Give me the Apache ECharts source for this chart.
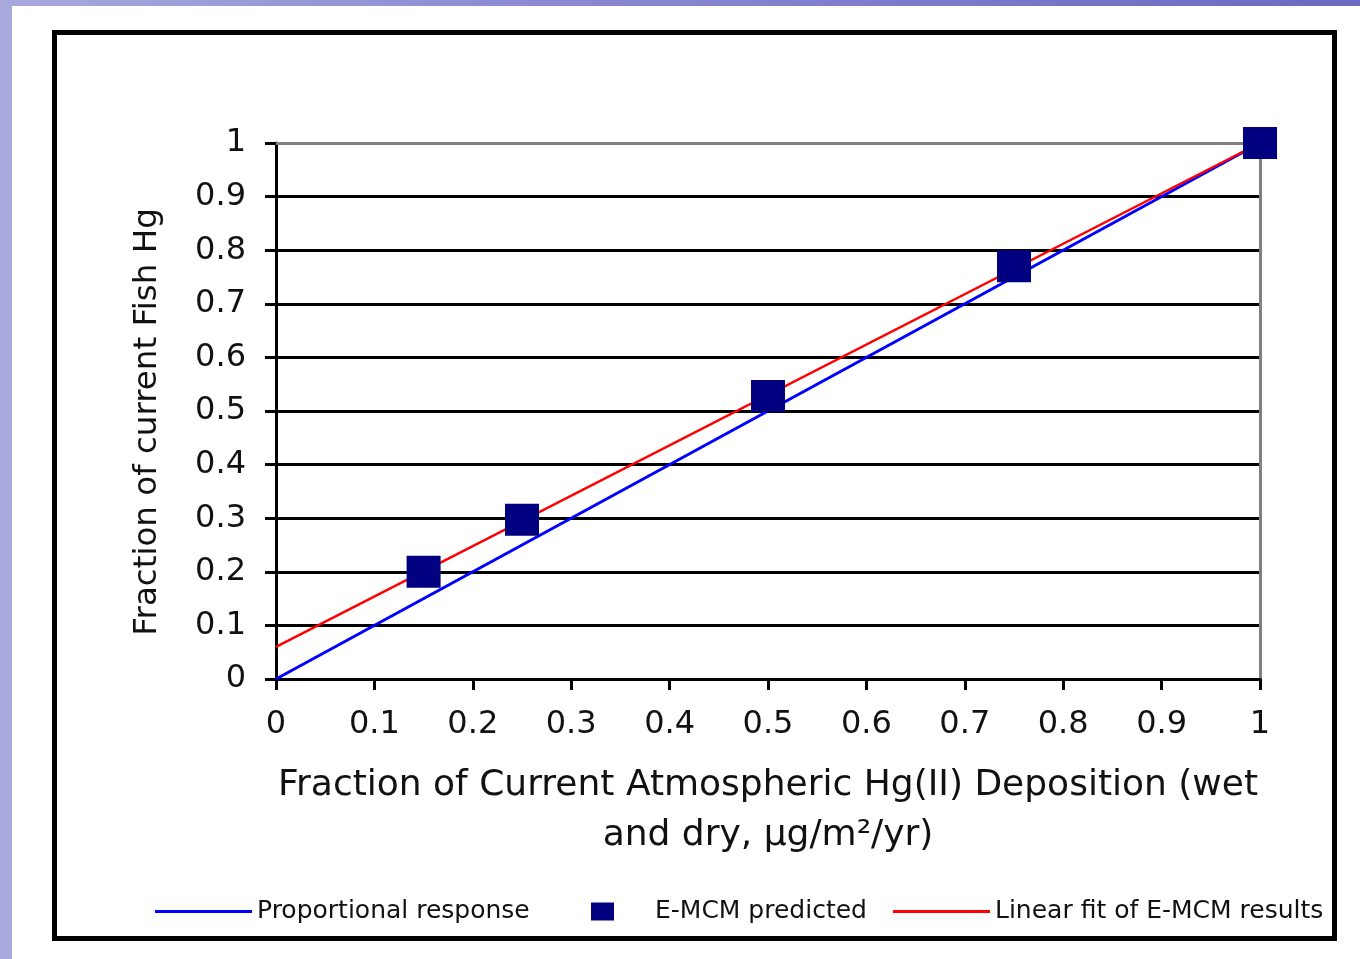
<!DOCTYPE html>
<html>
<head>
<meta charset="utf-8">
<script src="https://cdn.jsdelivr.net/npm/echarts@6/dist/echarts.min.js"></script>
<style>
  html, body { margin: 0; padding: 0; width: 1360px; height: 959px; overflow: hidden; }
  body { background: linear-gradient(90deg, #a9a9de 0%, #8a8ad2 40%, #6a6ac4 100%); }
  #panel { position: absolute; left: 12px; top: 6px; width: 1348px; height: 953px; background: #ffffff; }
  #chart { position: absolute; left: 0; top: 0; width: 1360px; height: 959px; }
</style>
</head>
<body>
<div id="panel"></div>
<div id="chart"></div>
<script>
// ---- data ----
var xTicks = [0, 0.1, 0.2, 0.3, 0.4, 0.5, 0.6, 0.7, 0.8, 0.9, 1];
var yTicks = [0, 0.1, 0.2, 0.3, 0.4, 0.5, 0.6, 0.7, 0.8, 0.9, 1];
var propX = [0, 1];
var propY = [0, 1];
var emcmX = [0.15, 0.25, 0.5, 0.75, 1.0];
var emcmY = [0.20, 0.297, 0.528, 0.77, 1.0];
var fitX = [0, 1];
var fitY = [0.06, 1.0];
var seriesNames = ['Proportional response', 'E-MCM predicted', 'Linear fit of E-MCM results'];
var xTitle = 'Fraction of Current Atmospheric Hg(II) Deposition (wet\nand dry, \u00b5g/m\u00b2/yr)';
var yTitle = 'Fraction of current Fish Hg';

function pairs(xs, ys) { return xs.map(function (x, i) { return [x, ys[i]]; }); }

var FONT = 'DejaVu Sans';
var TXT = '#111111';

var chart = echarts.init(document.getElementById('chart'), null, { renderer: 'canvas' });
var option = {
  backgroundColor: 'transparent',
  animation: false,
  grid: { left: 276, right: 100, top: 143, bottom: 280, containLabel: false },
  legend: [
    { data: [seriesNames[0]], left: 155, top: 899, padding: 0, icon: 'rect', itemWidth: 97, itemHeight: 3,
      itemGap: 0, textStyle: { fontFamily: FONT, fontSize: 25, color: TXT } },
    { data: [seriesNames[1]], left: 591, top: 899, padding: 0, icon: 'rect', itemWidth: 23, itemHeight: 18,
      itemGap: 0, textStyle: { fontFamily: FONT, fontSize: 25, color: TXT, padding: [0, 0, 0, 36] } },
    { data: [seriesNames[2]], left: 893, top: 899, padding: 0, icon: 'rect', itemWidth: 97, itemHeight: 3,
      itemGap: 0, textStyle: { fontFamily: FONT, fontSize: 25, color: TXT } }
  ],
  xAxis: [
    {
      type: 'value', min: 0, max: 1, interval: 0.1, position: 'bottom',
      name: xTitle, nameLocation: 'middle', nameGap: 82,
      nameTextStyle: { fontFamily: FONT, fontSize: 36, color: TXT, lineHeight: 50, align: 'center' },
      axisLine: { show: true, onZero: false, lineStyle: { color: '#000', width: 3 } },
      axisTick: { show: true, length: 11, lineStyle: { color: '#000', width: 3 } },
      axisLabel: { margin: 30, fontFamily: FONT, fontSize: 32, color: TXT,
        formatter: function (v) { return String(+v.toFixed(1)); } },
      splitLine: { show: false }
    },
    {
      type: 'value', min: 0, max: 1, interval: 0.1, position: 'top',
      axisLine: { show: true, onZero: false, lineStyle: { color: '#808080', width: 3 } },
      axisTick: { show: false }, axisLabel: { show: false }, splitLine: { show: false }
    }
  ],
  yAxis: [
    {
      type: 'value', min: 0, max: 1, interval: 0.1, position: 'left',
      name: yTitle, nameLocation: 'middle', nameGap: 112, nameRotate: 90,
      nameTextStyle: { fontFamily: FONT, fontSize: 32.5, color: TXT, padding: [0, 22, 0, 0] },
      axisLine: { show: true, onZero: false, lineStyle: { color: '#000', width: 3 } },
      axisTick: { show: true, length: 11, lineStyle: { color: '#000', width: 3 } },
      axisLabel: { margin: 30, fontFamily: FONT, fontSize: 32, color: TXT,
        formatter: function (v) { return String(+v.toFixed(1)); } },
      splitLine: { show: true, showMinLine: false, showMaxLine: false, lineStyle: { color: '#000', width: 3 } }
    },
    {
      type: 'value', min: 0, max: 1, interval: 0.1, position: 'right',
      axisLine: { show: true, onZero: false, lineStyle: { color: '#808080', width: 3 } },
      axisTick: { show: false }, axisLabel: { show: false }, splitLine: { show: false }
    }
  ],
  series: [
    { name: seriesNames[0], type: 'line', data: pairs(propX, propY), showSymbol: false, symbol: 'none',
      color: '#0000ff', lineStyle: { color: '#0000ff', width: 3 }, z: 3 },
    { name: seriesNames[2], type: 'line', data: pairs(fitX, fitY), showSymbol: false, symbol: 'none',
      color: '#ff0000', lineStyle: { color: '#ff0000', width: 2.5 }, z: 4 },
    { name: seriesNames[1], type: 'scatter', data: pairs(emcmX, emcmY), symbol: 'rect', symbolSize: [34, 32],
      color: '#000080', itemStyle: { color: '#000080', opacity: 1 }, z: 5 }
  ],
  graphic: [
    { type: 'rect', silent: true, z: 100,
      shape: { x: 54.5, y: 32.5, width: 1280, height: 906 },
      style: { fill: 'none', stroke: '#000', lineWidth: 5 } }
  ]
};
chart.setOption(option);
</script>
</body>
</html>
